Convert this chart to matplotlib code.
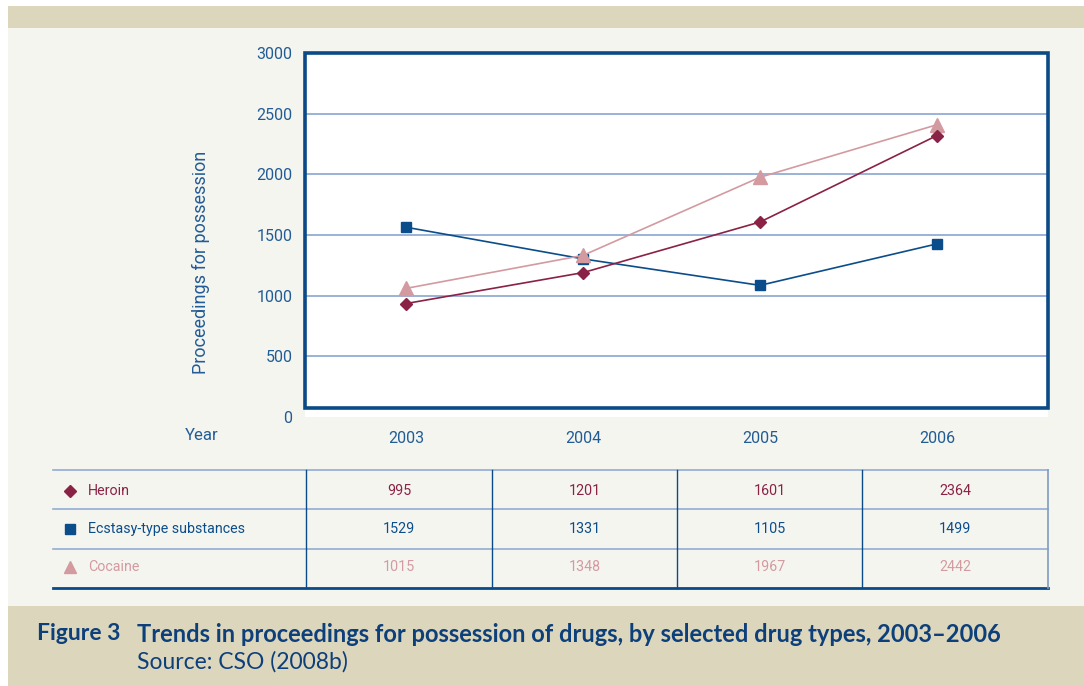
import matplotlib
matplotlib.use('Agg')
import matplotlib.pyplot as plt
from matplotlib.patches import Rectangle

years = ['2003', '2004', '2005', '2006']
series = ['Heroin', 'Ecstasy-type substances', 'Cocaine']

# values printed in the table under the chart
heroin_table = [995, 1201, 1601, 2364]
ecstasy_table = [1529, 1331, 1105, 1499]
cocaine_table = [1015, 1348, 1967, 2442]

# values as they are drawn in the chart
heroin_plot = [935, 1190, 1607, 2320]
ecstasy_plot = [1564, 1303, 1085, 1427]
cocaine_plot = [1060, 1332, 1976, 2409]

yticks = [0, 500, 1000, 1500, 2000, 2500, 3000]

HEROIN = '#8a2246'
ECSTASY = '#0b4d8b'
COCAINE = '#d39aa0'
TEXT = '#225c96'
FRAME = '#0a4a87'
GRID = '#8aa5d2'
BAND = '#dbd6bc'
INNER = '#f5f5f0'

plt.rcParams['font.family'] = ['Roboto', 'DejaVu Sans']

W, H = 1084, 686
fig = plt.figure(figsize=(W / 100, H / 100), dpi=100)
fig.patch.set_facecolor('white')

# background, table and caption live on a full-figure pixel axes
bg = fig.add_axes([0, 0, 1, 1], zorder=0)
bg.set_xlim(0, W)
bg.set_ylim(H, 0)
bg.axis('off')
bg.add_patch(Rectangle((8, 6), W - 8, 22, color=BAND, lw=0))
bg.add_patch(Rectangle((8, 28), W - 8, 578, color=INNER, lw=0))
bg.add_patch(Rectangle((8, 606), W - 8, 80, color=BAND, lw=0))

bg.text(202, 436, 'Year', color=TEXT, fontsize=12, ha='center', va='center')

# table
tab_left, tab_right = 53, 1048
row_lines = [470, 509, 549]
row_centers = [491, 529, 567]
col_edges = [306, 492, 677, 862, 1048]
for y in row_lines:
    bg.plot([tab_left, tab_right], [y, y], color=GRID, lw=1.1)
bg.plot([tab_left, tab_right], [588, 588], color=FRAME, lw=2.0)
for x in col_edges[:-1]:
    bg.plot([x, x], [470, 588], color=FRAME, lw=1.0)
bg.plot([tab_right, tab_right], [470, 588], color='#7f9cc0', lw=1.2)

table_rows = [
    ('Heroin', heroin_table, HEROIN, 'D', 6.5),
    ('Ecstasy-type substances', ecstasy_table, ECSTASY, 's', 6.5),
    ('Cocaine', cocaine_table, COCAINE, '^', 8.5),
]
for (name, vals, color, mk, ms), yc in zip(table_rows, row_centers):
    bg.plot([70], [yc], marker=mk, color=color, ms=ms, ls='none')
    bg.text(88, yc, name, color=color, fontsize=10.3, ha='left', va='center')
    for i, v in enumerate(vals):
        xc = (col_edges[i] + col_edges[i + 1]) / 2
        bg.text(xc, yc, str(v), color=color, fontsize=10.3, ha='center', va='center')

# caption
CAP = '#0d3f7a'
bg.text(37, 634, 'Figure 3', color=CAP, fontsize=16.5, fontweight='bold',
        family='Lato', ha='left', va='center')
bg.text(137, 634, 'Trends in proceedings for possession of drugs, by selected drug types, 2003\u20132006',
        color=CAP, fontsize=17, fontweight='bold', family='Lato', ha='left', va='center')
bg.text(137, 662, 'Source: CSO (2008b)', color=CAP, fontsize=16.5,
        family='Lato', ha='left', va='center')

# chart
ax = fig.add_axes([305 / W, 1 - 417 / H, 743 / W, 364 / H], zorder=1)
ax.set_facecolor('white')
x = list(range(len(years)))
xmin, xmax = -0.571, 3.627
ax.set_xlim(xmin, xmax)
ax.set_ylim(0, 3000)
for s in ax.spines.values():
    s.set_visible(False)

for yv in yticks[1:-1]:
    ax.axhline(yv, color=GRID, lw=1.2, zorder=1)

ax.add_patch(Rectangle((xmin, 75), xmax - xmin, 3000 - 75, fill=False,
                       edgecolor=FRAME, lw=2.6, clip_on=False, zorder=5))

ax.plot(x, ecstasy_plot, color=ECSTASY, lw=1.2, marker='s', ms=7, zorder=3)
ax.plot(x, cocaine_plot, color=COCAINE, lw=1.2, marker='^', ms=9.5, zorder=3)
ax.plot(x, heroin_plot, color=HEROIN, lw=1.2, marker='D', ms=6.5, zorder=4)

ax.set_yticks(yticks)
ax.set_yticklabels([str(v) for v in yticks])
ax.set_xticks(x)
ax.set_xticklabels(years)
ax.tick_params(axis='both', length=0, labelsize=11.5, labelcolor=TEXT)
ax.tick_params(axis='y', pad=9)
ax.tick_params(axis='x', pad=10)

ax.set_ylabel('Proceedings for possession', color=TEXT, fontsize=13)
ax.yaxis.set_label_coords((210 - 305) / 743, (417 - 262) / 364)

fig.savefig('out.png', dpi=100, facecolor=fig.get_facecolor())
